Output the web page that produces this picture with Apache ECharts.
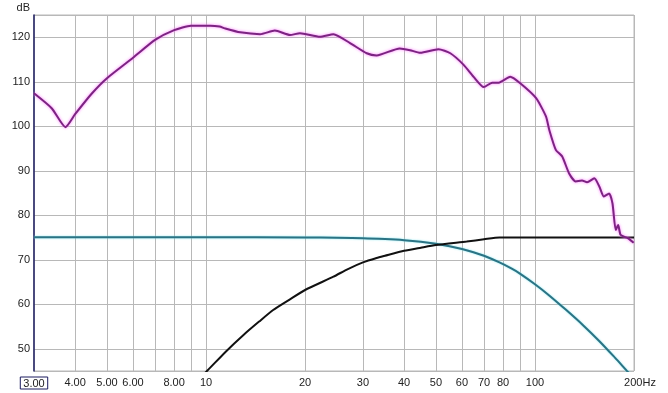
<!DOCTYPE html>
<html>
<head>
<meta charset="utf-8">
<script src="https://cdn.jsdelivr.net/npm/echarts@6/dist/echarts.min.js"></script>
<style>
html,body{margin:0;padding:0;background:#fff;}
#chart{width:668px;height:393px;}
</style>
</head>
<body>
<div id="chart"></div>
<script>
// Measured response (purple)
var freqPurple = [3.0, 3.4, 3.74, 4.0, 4.49, 5.0, 6.0, 7.0, 8.0, 9.0, 10.3, 11.0, 11.4, 12.7, 14.6, 16.2, 18.0, 19.3, 22.2, 24.4, 27.4, 30.8, 33.0, 38.8, 41.7, 44.8, 50.9, 55.3, 60.7, 65.1, 69.9, 74.1, 77.6, 84.1, 90, 100.8, 108, 110.5, 115.7, 121, 127, 133, 139, 144, 151.5, 157, 162, 168, 172, 176, 179, 182, 188, 192, 199.5];
var dbPurple   = [107.4, 104.0, 99.8, 102.7, 107.3, 110.8, 115.4, 119.4, 121.6, 122.6, 122.6, 122.4, 122.0, 121.1, 120.7, 121.5, 120.5, 120.9, 120.1, 120.7, 118.7, 116.4, 115.9, 117.5, 117.1, 116.5, 117.3, 116.4, 113.8, 111.1, 108.8, 109.8, 109.8, 111.1, 109.7, 106.3, 102.2, 99.2, 94.7, 93.2, 89.4, 87.6, 87.8, 87.4, 88.3, 86.4, 84.2, 84.9, 82.7, 76.7, 77.8, 75.6, 75.1, 74.8, 73.8];
// Low-pass target (teal)
var freqTeal = [3, 10, 20, 25, 30, 35, 40, 45, 50, 55, 60, 65, 70, 78, 85, 90, 100, 110, 124, 140, 157, 175, 190, 200];
var dbTeal   = [75.05, 75.05, 75.0, 74.95, 74.85, 74.65, 74.4, 74.05, 73.6, 73.05, 72.4, 71.7, 70.9, 69.4, 68.0, 66.9, 64.5, 62.1, 58.8, 55.3, 51.7, 48.0, 45.1, 43.3];
// High-pass target (black)
var freqBlack = [9.5, 10.1, 11.5, 13, 14.5, 16, 18, 20, 24.4, 27, 30, 33, 35, 40, 45, 50, 62, 70, 78, 100, 200];
var dbBlack   = [43.2, 45.1, 49.4, 53.1, 56.1, 58.7, 61.1, 63.2, 66.2, 67.9, 69.4, 70.4, 70.9, 72.0, 72.7, 73.3, 74.1, 74.6, 75.0, 75.0, 75.0];

// Axis ticks / labels
var xGridFreqs = [4, 5, 6, 7, 8, 9, 10, 20, 30, 40, 50, 60, 70, 80, 90, 100, 200];
var xLabelFreqs = [3, 4, 5, 6, 8, 10, 20, 30, 40, 50, 60, 70, 80, 100, 200];
var xLabelTexts = ['3.00', '4.00', '5.00', '6.00', '8.00', '10', '20', '30', '40', '50', '60', '70', '80', '100', '200Hz'];
var yTicks = [45, 50, 60, 70, 80, 90, 100, 110, 120, 125];
var yLabels = [50, 60, 70, 80, 90, 100, 110, 120];
var xMin = 3, xMax = 200, yMin = 45, yMax = 125;

function lg(v){ return Math.log10(v); }
function pairs(fs, ds){ return fs.map(function(f,i){ return [lg(f), ds[i]]; }); }

var chart = echarts.init(document.getElementById('chart'), null, {renderer:'canvas'});
var font = '"Liberation Sans", Arial, sans-serif';
var gridColor = '#b8b8b8';

chart.setOption({
  animation: false,
  backgroundColor: '#ffffff',
  grid: {left: 34, right: 34, top: 15, bottom: 22, show: true, borderColor: gridColor, borderWidth: 1, backgroundColor: '#ffffff'},
  xAxis: {
    type: 'value', min: lg(xMin), max: lg(xMax),
    axisLine: {show: false},
    axisTick: {show: false, customValues: xGridFreqs.map(lg)},
    splitLine: {show: true, lineStyle: {color: gridColor, width: 1}},
    axisLabel: {
      customValues: xLabelFreqs.map(lg),
      margin: 6,
      color: '#222', fontSize: 11, fontFamily: font,
      formatter: function(v){
        for (var i = 0; i < xLabelFreqs.length; i++) {
          if (Math.abs(lg(xLabelFreqs[i]) - v) < 1e-6) {
            if (i === 0) return '{box|' + xLabelTexts[i] + '}';
            if (i === xLabelFreqs.length - 1) return '{pad|}' + xLabelTexts[i];
            return xLabelTexts[i];
          }
        }
        return '';
      },
      rich: {
        box: {borderColor: '#1a1a5e', borderWidth: 1, padding: [1, 3, 0, 3], fontSize: 11, fontFamily: font, color: '#222'},
        pad: {width: 12}
      }
    }
  },
  yAxis: {
    type: 'value', min: yMin, max: yMax,
    name: 'dB', nameLocation: 'end', nameGap: 2,
    nameTextStyle: {align: 'right', verticalAlign: 'bottom', padding: [0, 4, 0, 0], color: '#222', fontSize: 11, fontFamily: font},
    axisLine: {show: true, lineStyle: {color: '#1a1a5e', width: 1.5}},
    axisTick: {show: false, customValues: yTicks},
    splitLine: {show: true, lineStyle: {color: gridColor, width: 1}},
    axisLabel: {customValues: yLabels, margin: 4, color: '#222', fontSize: 11, fontFamily: font}
  },
  series: [
    {
      type: 'line', data: pairs(freqTeal, dbTeal), showSymbol: false, smooth: 0.3, z: 3,
      lineStyle: {color: '#2b7384', width: 2, shadowColor: 'rgba(120,230,240,0.9)', shadowBlur: 2}
    },
    {
      type: 'line', data: pairs(freqBlack, dbBlack), showSymbol: false, smooth: 0.2, z: 4,
      lineStyle: {color: '#111111', width: 2}
    },
    {
      type: 'line', data: pairs(freqPurple, dbPurple), showSymbol: false, smooth: 0.2, z: 5,
      lineStyle: {color: '#7c2382', width: 2, shadowColor: 'rgba(255,110,255,0.95)', shadowBlur: 3}
    }
  ]
});
</script>
</body>
</html>
